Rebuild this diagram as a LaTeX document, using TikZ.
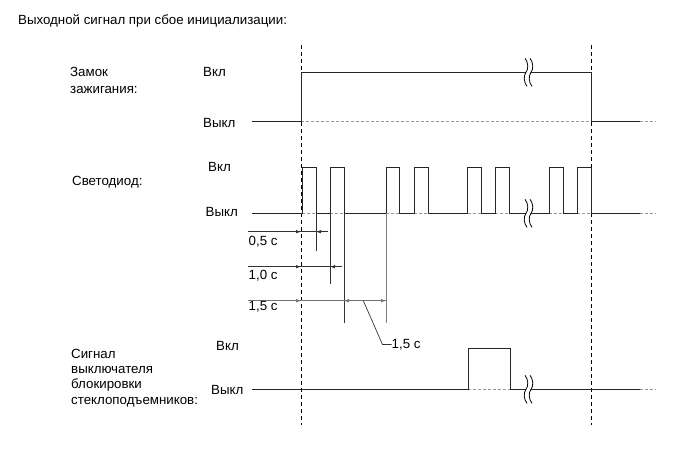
\documentclass[tikz,border=0pt]{standalone}
\usepackage{fontspec}
\setmainfont{Liberation Sans}
\usetikzlibrary{arrows.meta}
\begin{document}
\begin{tikzpicture}[x=1pt,y=-1pt,
  sig/.style={draw=black!85,line width=0.9pt},
  basedash/.style={draw=black!40,line width=0.8pt,dash pattern=on 3pt off 2pt},
  vdash/.style={draw=black,line width=0.8pt,dash pattern=on 4pt off 3pt},
  dim/.style={draw=black!80,line width=0.7pt},
  tip/.style={-{Latex[length=5pt,width=3.6pt]}},
  lab/.style={font=\fontsize{13.3}{15}\selectfont,inner sep=0pt,anchor=base west},
  brk/.pic={
    \fill[white] (-2.5,-13) rectangle (2.5,13);
    \draw[line width=0.8pt] (-3.5,-14) .. controls (0,-10) and (0,-3) .. (-2.5,0) .. controls (-5,3) and (-5,10) .. (-1.5,14);
    \draw[line width=0.8pt] (1.5,-14) .. controls (5,-10) and (5,-3) .. (2.5,0) .. controls (0,3) and (0,10) .. (3.5,14);
  }]
\useasboundingbox (0,0) rectangle (691,467);

% title
\node[lab] (title) at (18,24.5) {Выходной сигнал при сбое инициализации:};

% vertical reference lines
\draw[vdash] (301,45) -- (301,425);
\draw[vdash] (591,45) -- (591,425);

% ---------- ignition ----------
\node[lab] (ig1) at (70,76.5) {Замок};
\node[lab] (ig2) at (70,93) {зажигания:};
\node[lab] (igon) at (203,76.5) {Вкл};
\node[lab] (igoff) at (203,127.5) {Выкл};
\draw[basedash] (301,121.7) -- (591,121.7);
\draw[basedash] (640,121.7) -- (656,121.7);
\draw[sig] (252,121.7) -- (301,121.7) -- (301,72.3) -- (591,72.3) -- (591,121.7) -- (640,121.7);
\pic at (528.5,72.3) {brk};

% ---------- LED ----------
\node[lab] (ledname) at (72,185.5) {Светодиод:};
\node[lab] (ledon) at (208,171.5) {Вкл};
\node[lab] (ledoff) at (205.5,216) {Выкл};
\foreach \a/\b in {302/316,330/344,386/399.5,414/428,467.5/481.5,495/509.5,549/563,577/591,640/656}
  \draw[basedash] (\a,213.3) -- (\b,213.3);
\draw[sig] (252,213.3) -- (302,213.3) -- (302,167.3) -- (316,167.3) -- (316,213.3)
  -- (330,213.3) -- (330,167.3) -- (344,167.3) -- (344,213.3)
  -- (386,213.3) -- (386,167.3) -- (399.5,167.3) -- (399.5,213.3)
  -- (414,213.3) -- (414,167.3) -- (428,167.3) -- (428,213.3)
  -- (467.5,213.3) -- (467.5,167.3) -- (481.5,167.3) -- (481.5,213.3)
  -- (495,213.3) -- (495,167.3) -- (509.5,167.3) -- (509.5,213.3)
  -- (549,213.3) -- (549,167.3) -- (563,167.3) -- (563,213.3)
  -- (577,213.3) -- (577,167.3) -- (591,167.3) -- (591,213.3) -- (640,213.3);
\pic at (528.5,213.3) {brk};

% timing drop lines
\draw[dim] (316,213.3) -- (316,250.7);
\draw[dim] (330,213.3) -- (330,284);
\draw[dim] (344,213.3) -- (344,323);
\draw[dim,draw=black!50] (386,213.3) -- (386,323);

% dimension rows
\draw[dim] (248,231.7) -- (327.5,231.7);
\draw[dim,tip] (248,231.7) -- (301,231.7);
\draw[dim,tip] (327.5,231.7) -- (316,231.7);
\node[lab] (t05) at (248.5,245) {0,5 с};

\draw[dim] (248,266.7) -- (341.5,266.7);
\draw[dim,tip] (248,266.7) -- (301,266.7);
\draw[dim,tip] (341.5,266.7) -- (330,266.7);
\node[lab] (t10) at (248.5,279.5) {1,0 с};

\draw[dim,draw=black!55] (248,300.7) -- (386,300.7);
\draw[dim,draw=black!55,tip] (248,300.7) -- (301,300.7);
\coordinate (lm) at (363.3,300.7);
\draw[dim,draw=black!55,tip] (lm) -- (344,300.7);
\draw[dim,draw=black!55,tip] (lm) -- (386,300.7);
\node[lab] (t15a) at (248.5,310) {1,5 с};
\node[lab] (t15b) at (391.5,348) {1,5 с};
\draw[dim] (lm) -- (382.5,344.5) -- (t15b.west |- 0,344.5);

% ---------- window lock ----------
\node[lab] (w1) at (71,358) {Сигнал};
\node[lab] (w2) at (71,373.3) {выключателя};
\node[lab] (w3) at (71,388.6) {блокировки};
\node[lab] (w4) at (71,404) {стеклоподъемников:};
\node[lab] (won) at (216,350.5) {Вкл};
\node[lab] (woff) at (211,394) {Выкл};
\draw[basedash] (468,389.3) -- (510,389.3);
\draw[basedash] (640,389.3) -- (656,389.3);
\draw[sig] (252,389.3) -- (468,389.3) -- (468,348.3) -- (510,348.3) -- (510,389.3) -- (640,389.3);
\pic at (528.5,389.3) {brk};
\end{tikzpicture}
\end{document}
